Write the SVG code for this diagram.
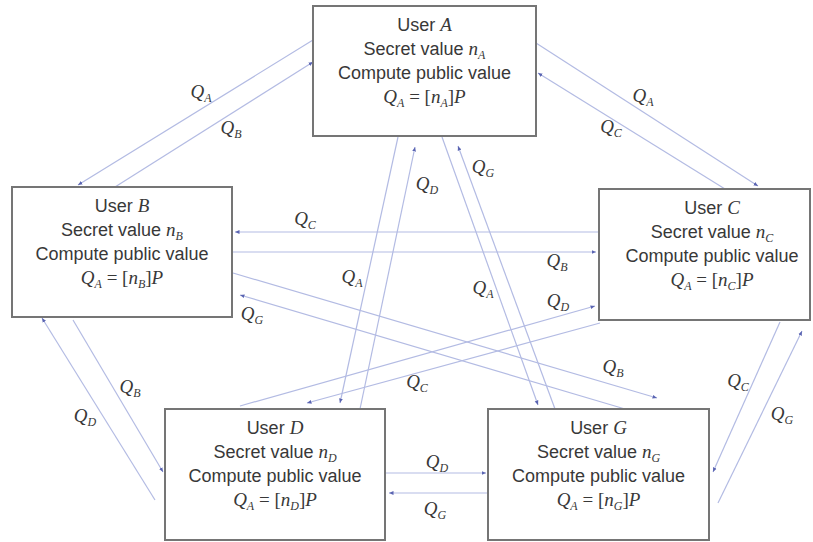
<svg xmlns="http://www.w3.org/2000/svg" width="813" height="542" viewBox="0 0 813 542">
<style>
.box{fill:#fff;stroke:#757575;stroke-width:2}
.t{font-family:"Liberation Sans",Arial,sans-serif;font-size:18px;fill:#383838;text-anchor:middle}
.m{font-family:"Liberation Serif","Times New Roman",serif;font-style:italic;font-size:19px}
.ms{font-family:"Liberation Serif","Times New Roman",serif;font-style:italic;font-size:12px}
.mr{font-family:"Liberation Serif","Times New Roman",serif;font-size:19px}
.lbl{font-family:"Liberation Serif","Times New Roman",serif;font-style:italic;font-size:19px;fill:#383838;text-anchor:middle}
.lbl .s{font-size:12px}
.c{fill:none;stroke:#b3bbe3;stroke-width:1.2;marker-end:url(#ah)}
</style>
<defs>
<marker id="ah" markerUnits="userSpaceOnUse" markerWidth="6" markerHeight="5" refX="4.5" refY="2.5" orient="auto">
<path d="M0,0.6 L4.5,2.5 L0,4.4 Z" fill="#5a64b2"/>
</marker>
</defs>
<rect width="813" height="542" fill="#fff"/>

<g id="connectors">
<line class="c" x1="313" y1="40" x2="78" y2="185"/>
<line class="c" x1="115" y1="187" x2="313" y2="62"/>
<line class="c" x1="536" y1="43" x2="758" y2="186"/>
<line class="c" x1="725" y1="189" x2="538" y2="73"/>
<line class="c" x1="599" y1="232" x2="235" y2="232"/>
<line class="c" x1="233" y1="252" x2="596" y2="252"/>
<line class="c" x1="233" y1="273" x2="657" y2="398"/>
<line class="c" x1="625" y1="409" x2="240" y2="295"/>
<line class="c" x1="398" y1="137" x2="340" y2="403"/>
<line class="c" x1="360" y1="409" x2="415" y2="147"/>
<line class="c" x1="442" y1="137" x2="538" y2="405"/>
<line class="c" x1="555" y1="409" x2="458" y2="146"/>
<line class="c" x1="240" y1="406" x2="595" y2="306"/>
<line class="c" x1="600" y1="323" x2="307" y2="403"/>
<line class="c" x1="73" y1="320" x2="163" y2="472"/>
<line class="c" x1="155" y1="500" x2="42" y2="318"/>
<line class="c" x1="780" y1="322" x2="713" y2="472"/>
<line class="c" x1="718" y1="503" x2="802" y2="331"/>
<line class="c" x1="385" y1="473" x2="486" y2="473"/>
<line class="c" x1="488" y1="493" x2="389" y2="493"/>

<text class="lbl" x="201" y="98">Q<tspan class="s" dy="4">A</tspan></text>
<text class="lbl" x="231" y="134">Q<tspan class="s" dy="4">B</tspan></text>
<text class="lbl" x="643" y="102">Q<tspan class="s" dy="4">A</tspan></text>
<text class="lbl" x="611" y="133">Q<tspan class="s" dy="4">C</tspan></text>
<text class="lbl" x="305" y="225">Q<tspan class="s" dy="4">C</tspan></text>
<text class="lbl" x="557" y="267">Q<tspan class="s" dy="4">B</tspan></text>
<text class="lbl" x="252" y="320">Q<tspan class="s" dy="4">G</tspan></text>
<text class="lbl" x="613" y="373">Q<tspan class="s" dy="4">B</tspan></text>
<text class="lbl" x="427" y="190">Q<tspan class="s" dy="4">D</tspan></text>
<text class="lbl" x="352" y="283">Q<tspan class="s" dy="4">A</tspan></text>
<text class="lbl" x="483" y="173">Q<tspan class="s" dy="4">G</tspan></text>
<text class="lbl" x="483" y="294">Q<tspan class="s" dy="4">A</tspan></text>
<text class="lbl" x="558" y="307">Q<tspan class="s" dy="4">D</tspan></text>
<text class="lbl" x="417" y="388">Q<tspan class="s" dy="4">C</tspan></text>
<text class="lbl" x="130" y="393">Q<tspan class="s" dy="4">B</tspan></text>
<text class="lbl" x="85" y="422">Q<tspan class="s" dy="4">D</tspan></text>
<text class="lbl" x="738" y="387">Q<tspan class="s" dy="4">C</tspan></text>
<text class="lbl" x="782" y="420">Q<tspan class="s" dy="4">G</tspan></text>
<text class="lbl" x="437" y="468">Q<tspan class="s" dy="4">D</tspan></text>
<text class="lbl" x="435" y="515">Q<tspan class="s" dy="4">G</tspan></text>
</g>

<g id="userA">
<rect class="box" x="313" y="6" width="223" height="130"/>
<text class="t" x="424.5" y="31">User <tspan class="m">A</tspan></text>
<text class="t" x="424.5" y="55">Secret value <tspan class="m">n</tspan><tspan class="ms" dy="4">A</tspan></text>
<text class="t" x="424.5" y="79">Compute public value</text>
<text class="t" x="424.5" y="103"><tspan class="m">Q</tspan><tspan class="ms" dy="4">A</tspan><tspan class="mr" dy="-4"> = [</tspan><tspan class="m">n</tspan><tspan class="ms" dy="4">A</tspan><tspan class="mr" dy="-4">]</tspan><tspan class="m">P</tspan></text>
</g>

<g id="userB">
<rect class="box" x="12" y="187" width="220" height="130"/>
<text class="t" x="122" y="212">User <tspan class="m">B</tspan></text>
<text class="t" x="122" y="236">Secret value <tspan class="m">n</tspan><tspan class="ms" dy="4">B</tspan></text>
<text class="t" x="122" y="260">Compute public value</text>
<text class="t" x="122" y="284"><tspan class="m">Q</tspan><tspan class="ms" dy="4">A</tspan><tspan class="mr" dy="-4"> = [</tspan><tspan class="m">n</tspan><tspan class="ms" dy="4">B</tspan><tspan class="mr" dy="-4">]</tspan><tspan class="m">P</tspan></text>
</g>

<g id="userC">
<rect class="box" x="599" y="189" width="211" height="131"/>
<text class="t" x="712" y="214">User <tspan class="m">C</tspan></text>
<text class="t" x="712" y="238">Secret value <tspan class="m">n</tspan><tspan class="ms" dy="4">C</tspan></text>
<text class="t" x="712" y="262">Compute public value</text>
<text class="t" x="712" y="286"><tspan class="m">Q</tspan><tspan class="ms" dy="4">A</tspan><tspan class="mr" dy="-4"> = [</tspan><tspan class="m">n</tspan><tspan class="ms" dy="4">C</tspan><tspan class="mr" dy="-4">]</tspan><tspan class="m">P</tspan></text>
</g>

<g id="userD">
<rect class="box" x="165" y="409" width="220" height="131"/>
<text class="t" x="275" y="434">User <tspan class="m">D</tspan></text>
<text class="t" x="275" y="458">Secret value <tspan class="m">n</tspan><tspan class="ms" dy="4">D</tspan></text>
<text class="t" x="275" y="482">Compute public value</text>
<text class="t" x="275" y="506"><tspan class="m">Q</tspan><tspan class="ms" dy="4">A</tspan><tspan class="mr" dy="-4"> = [</tspan><tspan class="m">n</tspan><tspan class="ms" dy="4">D</tspan><tspan class="mr" dy="-4">]</tspan><tspan class="m">P</tspan></text>
</g>

<g id="userG">
<rect class="box" x="488" y="409" width="221" height="131"/>
<text class="t" x="598.5" y="434">User <tspan class="m">G</tspan></text>
<text class="t" x="598.5" y="458">Secret value <tspan class="m">n</tspan><tspan class="ms" dy="4">G</tspan></text>
<text class="t" x="598.5" y="482">Compute public value</text>
<text class="t" x="598.5" y="506"><tspan class="m">Q</tspan><tspan class="ms" dy="4">A</tspan><tspan class="mr" dy="-4"> = [</tspan><tspan class="m">n</tspan><tspan class="ms" dy="4">G</tspan><tspan class="mr" dy="-4">]</tspan><tspan class="m">P</tspan></text>
</g>
</svg>
